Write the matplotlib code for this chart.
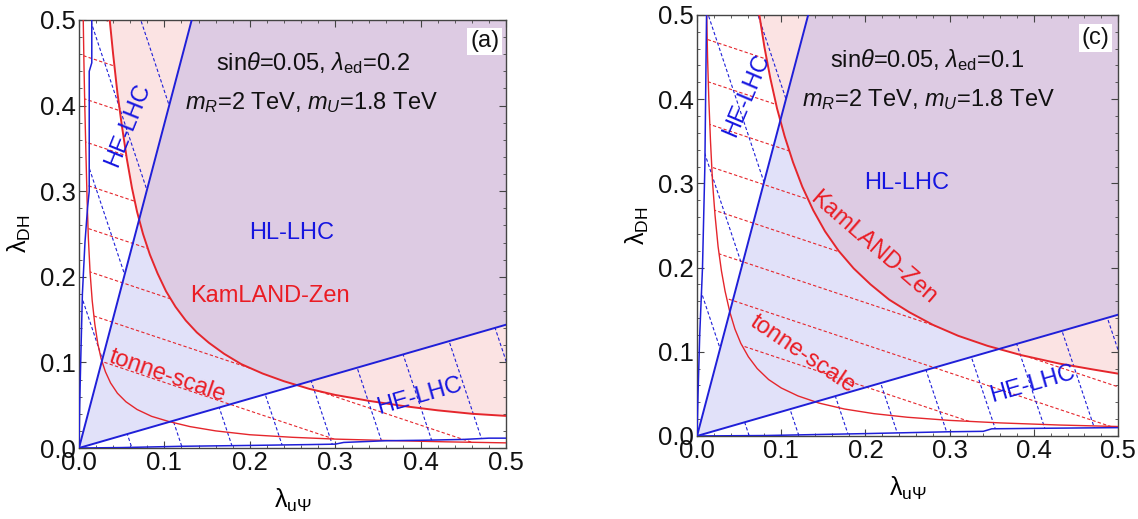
import matplotlib
matplotlib.use('Agg')
import numpy as np
import matplotlib.pyplot as plt
from matplotlib.patches import Polygon
from matplotlib.ticker import MultipleLocator

plt.rcParams['font.family'] = ['Liberation Sans', 'DejaVu Sans']
plt.rcParams['mathtext.fontset'] = 'custom'
plt.rcParams['mathtext.rm'] = 'Liberation Sans'
plt.rcParams['mathtext.it'] = 'Liberation Sans:italic'
plt.rcParams['mathtext.bf'] = 'Liberation Sans:bold'

# ---- panel (a): sin(theta)=0.05, lambda_ed=0.2 ----
kam_a_x = [0.036, 0.040, 0.045, 0.050, 0.056, 0.062, 0.068, 0.075, 0.083, 0.092, 0.102, 0.113,
           0.125, 0.138, 0.152, 0.170, 0.190, 0.215, 0.240, 0.270, 0.300, 0.340, 0.380, 0.420, 0.460, 0.500]
kam_a_y = [0.5, 0.46, 0.415, 0.378, 0.338, 0.304, 0.276, 0.250, 0.226, 0.204, 0.183, 0.165,
           0.149, 0.135, 0.123, 0.110, 0.098, 0.087, 0.078, 0.069, 0.062, 0.055, 0.049, 0.044, 0.040, 0.0375]
ton_a_x = [0.005, 0.0058, 0.0068, 0.008, 0.0095, 0.011, 0.013, 0.0155, 0.0185, 0.022, 0.026, 0.031,
           0.037, 0.045, 0.055, 0.068, 0.085, 0.105, 0.13, 0.16, 0.2, 0.25, 0.3, 0.36, 0.43, 0.5]
ton_a_y = [0.5, 0.45, 0.40, 0.35, 0.29, 0.245, 0.205, 0.172, 0.145, 0.122, 0.104, 0.089,
           0.076, 0.064, 0.054, 0.045, 0.037, 0.031, 0.025, 0.020, 0.0155, 0.0125, 0.0104, 0.0088, 0.0072, 0.0060]
he_left_a_x = [0, 0.0008, 0.002, 0.004, 0.007, 0.010, 0.012, 0.012, 0.015, 0.015]
he_left_a_y = [0, 0.05, 0.10, 0.18, 0.24, 0.28, 0.30, 0.44, 0.45, 0.5]
he_bot_a_x = [0, 0.05, 0.12, 0.2, 0.27, 0.30, 0.31, 0.36, 0.40, 0.45, 0.48, 0.5]
he_bot_a_y = [0, 0.0005, 0.002, 0.003, 0.004, 0.0045, 0.0065, 0.0085, 0.009, 0.010, 0.0115, 0.0115]

# ---- panel (c): sin(theta)=0.05, lambda_ed=0.1 ----
kam_c_x = [0.074, 0.080, 0.087, 0.095, 0.104, 0.114, 0.125, 0.138, 0.152, 0.168, 0.186, 0.206,
           0.228, 0.252, 0.28, 0.31, 0.345, 0.385, 0.43, 0.47, 0.5]
kam_c_y = [0.5, 0.462, 0.425, 0.389, 0.356, 0.325, 0.296, 0.268, 0.243, 0.220, 0.199, 0.180,
           0.162, 0.147, 0.132, 0.119, 0.107, 0.096, 0.086, 0.079, 0.074]
ton_c_x = [0.0115, 0.0125, 0.014, 0.016, 0.0185, 0.0214, 0.025, 0.029, 0.0333, 0.039, 0.045, 0.052,
           0.061, 0.0715, 0.085, 0.1, 0.12, 0.145, 0.175, 0.21, 0.25, 0.3, 0.36, 0.43, 0.5]
ton_c_y = [0.5, 0.45, 0.40, 0.35, 0.30, 0.262, 0.225, 0.196, 0.172, 0.147, 0.127, 0.110,
           0.094, 0.080, 0.067, 0.057, 0.0475, 0.039, 0.032, 0.0265, 0.0222, 0.0185, 0.0155, 0.013, 0.0112]
he_left_c_x = [0, 0.0012, 0.0032, 0.0065, 0.0093, 0.0113]
he_left_c_y = [0, 0.05, 0.12, 0.2, 0.32, 0.5]
he_bot_c_x = [0, 0.08, 0.2, 0.3, 0.34, 0.35, 0.42, 0.5]
he_bot_c_y = [0, 0.0005, 0.0028, 0.005, 0.0055, 0.0085, 0.0092, 0.0099]

# HL-LHC wedge edges (same in both panels)
hl_steep_x = [0, 0.132]
hl_steep_y = [0, 0.5]
hl_shallow_x = [0, 0.5]
hl_shallow_y = [0, 0.144]

PINK = '#fbe3e3'
LAV = '#e1e1f9'
PURP = '#ddcbe3'
BLUE = '#1f1fd8'
RED = '#e5262c'
TBLUE = '#1515e0'
TRED = '#ea1c24'


def hatch(ax, region, kind, offsets):
    # dashed hatch lines clipped to a region
    t = np.array([-0.1, 0.7])
    for c in offsets:
        if kind == 'blue':
            ln, = ax.plot(c - t / 3, t, color=BLUE, lw=0.8, ls=(0, (3, 2)), zorder=2)
        else:
            ln, = ax.plot(t, c - t / 3, color=RED, lw=0.8, ls=(0, (3, 2)), zorder=2)
        ln.set_clip_path(region)


def panel(ax, kx, ky, tx, ty, hlx, hly, hbx, hby, red_offsets):
    kam_poly = list(zip(kx, ky)) + [(0.5, 0.5)]
    hl_poly = [(0, 0), (hl_steep_x[1], hl_steep_y[1]), (0.5, 0.5), (hl_shallow_x[1], hl_shallow_y[1])]
    ton_poly = list(zip(tx, ty)) + list(zip(kx, ky))[::-1]
    he_up = list(zip(hlx, hly)) + [(hl_steep_x[1], hl_steep_y[1])]
    he_low = [(0, 0), (hl_shallow_x[1], hl_shallow_y[1])] + list(zip(hbx, hby))[::-1]

    kam_patch = Polygon(kam_poly, closed=True, fc=PINK, ec='none', zorder=1)
    ax.add_patch(kam_patch)
    ax.add_patch(Polygon(hl_poly, closed=True, fc=LAV, ec='none', zorder=1))
    pur = Polygon(hl_poly, closed=True, fc=PURP, ec='none', zorder=1.1)
    ax.add_patch(pur)
    pur.set_clip_path(kam_patch)

    ton_patch = Polygon(ton_poly, closed=True, fc='none', ec='none')
    ax.add_patch(ton_patch)
    hatch(ax, ton_patch, 'red', red_offsets)
    for poly in (he_up, he_low):
        p = Polygon(poly, closed=True, fc='none', ec='none')
        ax.add_patch(p)
        hatch(ax, p, 'blue', np.arange(0.062, 0.75, 0.059))

    ax.plot(kx, ky, color=RED, lw=1.4, zorder=3)
    ax.plot(tx, ty, color=RED, lw=1.0, zorder=3)
    ax.plot(hl_steep_x, hl_steep_y, color=BLUE, lw=1.4, zorder=3)
    ax.plot(hl_shallow_x, hl_shallow_y, color=BLUE, lw=1.4, zorder=3)
    ax.plot(hlx, hly, color=BLUE, lw=1.1, zorder=3)
    ax.plot(hbx, hby, color=BLUE, lw=1.1, zorder=3)

    ax.set_xlim(0, 0.5)
    ax.set_ylim(0, 0.5)
    ax.xaxis.set_major_locator(MultipleLocator(0.1))
    ax.yaxis.set_major_locator(MultipleLocator(0.1))
    ax.xaxis.set_minor_locator(MultipleLocator(0.02))
    ax.yaxis.set_minor_locator(MultipleLocator(0.02))
    ax.xaxis.set_major_formatter(lambda v, p: f'{v:.1f}')
    ax.yaxis.set_major_formatter(lambda v, p: f'{v:.1f}')
    ax.tick_params(which='both', direction='in', top=True, right=True, colors='#444444',
                   labelcolor='#111111', labelsize=18.5, pad=2)
    ax.tick_params(which='major', length=5, width=0.8)
    ax.tick_params(which='minor', length=2.5, width=0.6)
    for s in ax.spines.values():
        s.set_color('#444444')
        s.set_linewidth(1.0)
    ax.set_xlabel(r'$\mathrm{\lambda_{u\Psi}}$', fontsize=18, labelpad=9)
    ax.set_ylabel(r'$\mathrm{\lambda_{DH}}$', fontsize=18, labelpad=5)


fig = plt.figure(figsize=(11.38, 5.19), dpi=100)
ax1 = fig.add_axes([0.0694, 0.1368, 0.3752, 0.8247])
ax2 = fig.add_axes([0.6125, 0.16, 0.370, 0.8112])

panel(ax1, kam_a_x, kam_a_y, ton_a_x, ton_a_y, he_left_a_x, he_left_a_y,
      he_bot_a_x, he_bot_a_y, np.arange(0.11, 0.62, 0.05))
panel(ax2, kam_c_x, kam_c_y, ton_c_x, ton_c_y, he_left_c_x, he_left_c_y,
      he_bot_c_x, he_bot_c_y, np.arange(0.125, 0.62, 0.05))

fs = 17
# labels panel (a)
ax1.text(0.274, 0.45, r'sin$\theta$=0.05, $\lambda_{\rm ed}$=0.2', ha='center', va='center', fontsize=fs, color='#111111', zorder=5)
ax1.text(0.272, 0.403, r'$m_R$=2 TeV, $m_U$=1.8 TeV', ha='center', va='center', fontsize=fs, color='#111111', zorder=5)
ax1.text(0.475, 0.475, '(a)', ha='center', va='center', fontsize=fs, color='#111111', zorder=5,
         bbox=dict(fc='white', ec='none', pad=2))
ax1.text(0.249, 0.251, 'HL-LHC', ha='center', va='center', fontsize=fs, color=TBLUE, zorder=5)
ax1.text(0.224, 0.177, 'KamLAND-Zen', ha='center', va='center', fontsize=fs, color=TRED, zorder=5)
ax1.text(0.1036, 0.0833, 'tonne-scale', ha='center', va='center', fontsize=fs, color=TRED, rotation=-19, zorder=5)
ax1.text(0.057, 0.377, 'HE-LHC', ha='center', va='center', fontsize=fs, color=TBLUE, rotation=68, zorder=5)
ax1.text(0.399, 0.060, 'HE-LHC', ha='center', va='center', fontsize=fs, color=TBLUE, rotation=16, zorder=5)

# labels panel (c)
ax2.text(0.273, 0.447, r'sin$\theta$=0.05, $\lambda_{\rm ed}$=0.1', ha='center', va='center', fontsize=fs, color='#111111', zorder=5)
ax2.text(0.275, 0.40, r'$m_R$=2 TeV, $m_U$=1.8 TeV', ha='center', va='center', fontsize=fs, color='#111111', zorder=5)
ax2.text(0.473, 0.473, '(c)', ha='center', va='center', fontsize=fs, color='#111111', zorder=5,
         bbox=dict(fc='white', ec='none', pad=2))
ax2.text(0.249, 0.301, 'HL-LHC', ha='center', va='center', fontsize=fs, color=TBLUE, zorder=5)
ax2.text(0.209, 0.224, 'KamLAND-Zen', ha='center', va='center', fontsize=fs, color=TRED, rotation=-41, zorder=5)
ax2.text(0.125, 0.097, 'tonne-scale', ha='center', va='center', fontsize=fs, color=TRED, rotation=-34, zorder=5)
ax2.text(0.059, 0.404, 'HE-LHC', ha='center', va='center', fontsize=fs, color=TBLUE, rotation=67, zorder=5)
ax2.text(0.399, 0.061, 'HE-LHC', ha='center', va='center', fontsize=fs, color=TBLUE, rotation=16, zorder=5)

fig.savefig('out.png', dpi=100)
